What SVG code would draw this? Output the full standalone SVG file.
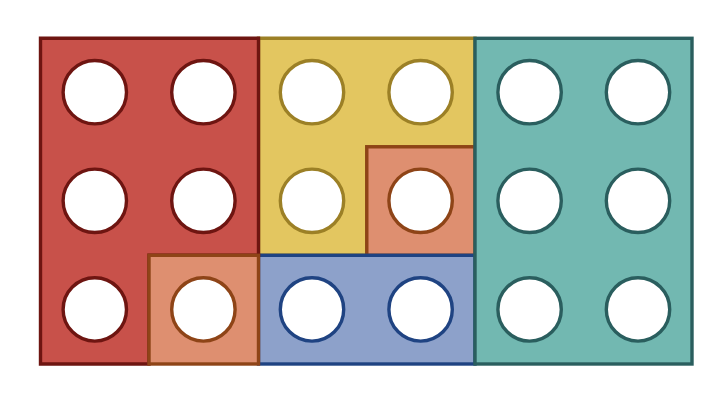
<svg xmlns="http://www.w3.org/2000/svg" width="726" height="402" viewBox="0 0 726 402">
<style>
.s{stroke-width:3.4}
.red{fill:#c8514a;stroke:#6e1511}
.sal{fill:#de8f70;stroke:#8e4417}
.yel{fill:#e3c660;stroke:#9c8026}
.blu{fill:#8da1ca;stroke:#1f4382}
.tea{fill:#72b8b1;stroke:#2a5e5e}
circle{fill:#ffffff;stroke-width:3.4}
</style>
<rect width="726" height="402" fill="#ffffff"/>
<g id="yellow" class="s">
<path class="yel" d="M258.5,38.3 H475 V146.8 H366.8 V255.3 H258.5 Z"/>
<circle cx="312" cy="92.2" r="31.7" stroke="#9c8026"/>
<circle cx="420.6" cy="92.2" r="31.7" stroke="#9c8026"/>
<circle cx="312" cy="200.8" r="31.7" stroke="#9c8026"/>
</g>
<g id="salmon-right" class="s">
<rect class="sal" x="366.8" y="146.8" width="108.2" height="108.5"/>
<circle cx="420.6" cy="200.8" r="31.7" stroke="#8e4417"/>
</g>
<g id="blue" class="s">
<rect class="blu" x="258.5" y="255.3" width="216.5" height="108.7"/>
<circle cx="312" cy="309.4" r="31.7" stroke="#1f4382"/>
<circle cx="420.6" cy="309.4" r="31.7" stroke="#1f4382"/>
</g>
<g id="red" class="s">
<path class="red" d="M40.5,38.3 H258.5 V255.3 H149 V364 H40.5 Z"/>
<circle cx="94.8" cy="92.2" r="31.7" stroke="#6e1511"/>
<circle cx="203.4" cy="92.2" r="31.7" stroke="#6e1511"/>
<circle cx="94.8" cy="200.8" r="31.7" stroke="#6e1511"/>
<circle cx="203.4" cy="200.8" r="31.7" stroke="#6e1511"/>
<circle cx="94.8" cy="309.4" r="31.7" stroke="#6e1511"/>
</g>
<g id="salmon-left" class="s">
<rect class="sal" x="149" y="255.3" width="109.5" height="108.7"/>
<circle cx="203.4" cy="309.4" r="31.7" stroke="#8e4417"/>
</g>
<g id="teal" class="s">
<rect class="tea" x="475" y="38.3" width="217" height="325.7"/>
<circle cx="529.6" cy="92.2" r="31.7" stroke="#2a5e5e"/>
<circle cx="638" cy="92.2" r="31.7" stroke="#2a5e5e"/>
<circle cx="529.6" cy="200.8" r="31.7" stroke="#2a5e5e"/>
<circle cx="638" cy="200.8" r="31.7" stroke="#2a5e5e"/>
<circle cx="529.6" cy="309.4" r="31.7" stroke="#2a5e5e"/>
<circle cx="638" cy="309.4" r="31.7" stroke="#2a5e5e"/>
</g>
<g id="connectors"></g>
</svg>
